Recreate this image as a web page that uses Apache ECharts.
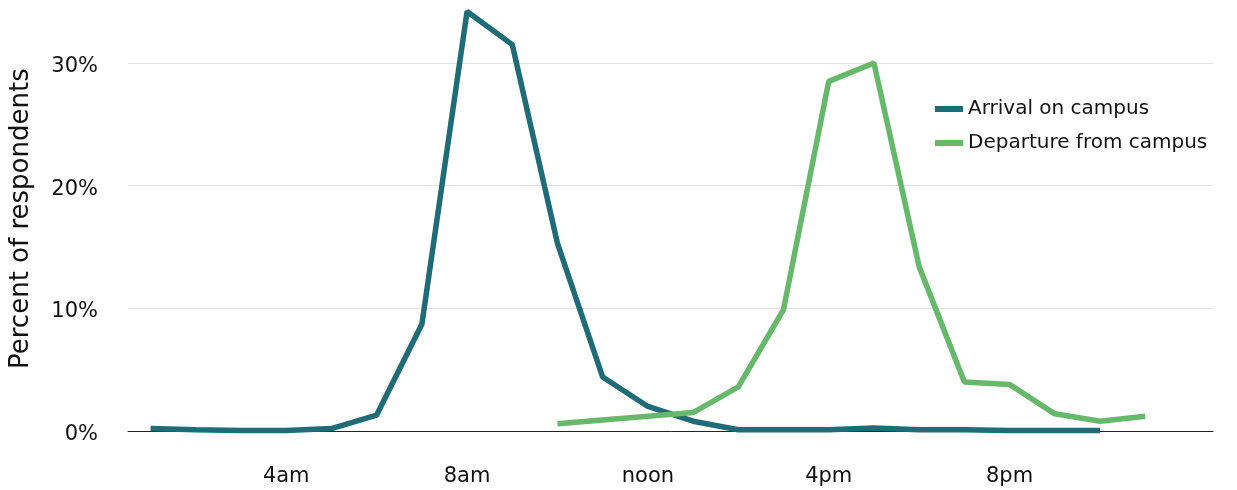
<!DOCTYPE html>
<html><head><meta charset="utf-8">
<script src="https://cdn.jsdelivr.net/npm/echarts@6/dist/echarts.min.js"></script>
<style>html,body{margin:0;padding:0;background:#fff}#c{width:1237px;height:490px}</style>
</head><body><div id="c"></div>
<script>
const categories = ['1am','2am','3am','4am','5am','6am','7am','8am','9am','10am','11am','noon',
  '1pm','2pm','3pm','4pm','5pm','6pm','7pm','8pm','9pm','10pm','11pm','midnight'];
const tickLabels = ['4am','8am','noon','4pm','8pm'];
const arrival = [0.2,0.1,0.05,0.05,0.2,1.3,8.7,34.2,31.5,15.3,4.4,2.0,0.8,0.1,0.1,0.1,0.25,0.1,0.1,0.05,0.05,0.05,null,null];
const departure = [null,null,null,null,null,null,null,null,null,0.6,0.9,1.2,1.5,3.6,9.9,28.5,30.0,13.4,4.0,3.8,1.4,0.8,1.2,null];

const FONT = '"DejaVu Sans"';
const chart = echarts.init(document.getElementById('c'));
chart.setOption({
  animation: false,
  textStyle: { fontFamily: FONT },
  grid: { left: 128, right: 24, top: 63, bottom: 59 },
  legend: {
    orient: 'vertical', left: 930, top: 94,
    icon: 'rect', itemWidth: 28, itemHeight: 6, itemGap: 14,
    textStyle: { fontFamily: FONT, fontSize: 20, color: '#111' },
    data: ['Arrival on campus', 'Departure from campus']
  },
  graphic: [{
    type: 'text',
    rotation: Math.PI / 2,
    x: 8, y: 369,
    style: { text: 'Percent of respondents', fontFamily: FONT, fontSize: 26, fill: '#111' }
  }],
  xAxis: {
    type: 'category', data: categories, boundaryGap: true,
    axisLine: { lineStyle: { color: '#222', width: 1 } },
    axisTick: { show: false },
    axisLabel: {
      interval: 0, margin: 35, fontSize: 21, color: '#111', fontFamily: FONT,
      formatter: v => tickLabels.includes(v) ? v : ''
    }
  },
  yAxis: {
    type: 'value', min: 0, max: 30, interval: 10,
    axisLine: { show: false }, axisTick: { show: false },
    splitLine: { lineStyle: { color: '#e3e3e3', width: 1 } },
    axisLabel: { margin: 30, color: '#111', fontFamily: FONT,
      formatter: v => '{a|' + v + '%}',
      rich: { a: { fontSize: 21, fontFamily: FONT, color: '#111', padding: [7, 0, 0, 0] } } }
  },
  series: [
    { name: 'Arrival on campus', type: 'line', data: arrival, clip: false, showSymbol: false,
      symbol: 'none', itemStyle: { color: '#1f6b77' }, lineStyle: { color: '#1f6b77', width: 5.5 } },
    { name: 'Departure from campus', type: 'line', data: departure, clip: false, showSymbol: false,
      symbol: 'none', itemStyle: { color: '#66b96a' }, lineStyle: { color: '#66b96a', width: 5.5 } }
  ]
});
</script></body></html>
